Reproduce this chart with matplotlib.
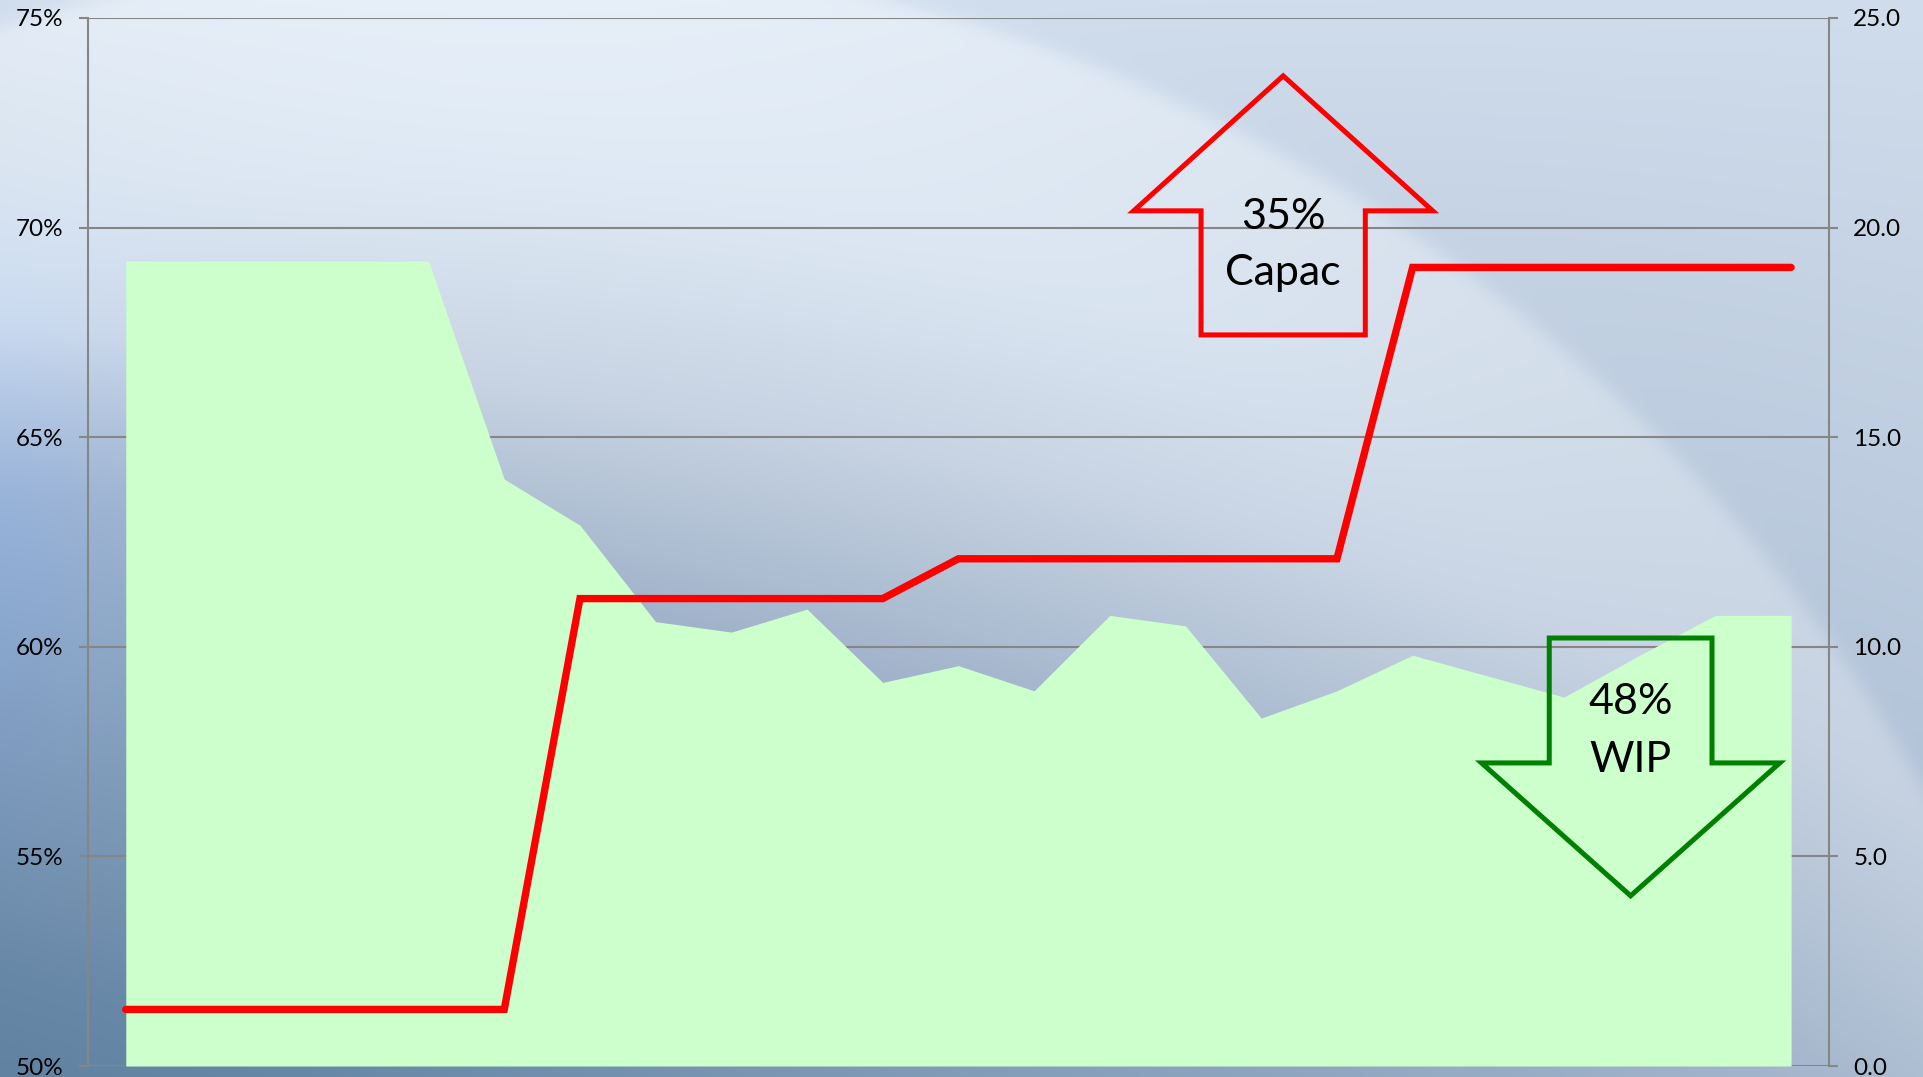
import numpy as np
import matplotlib
matplotlib.use("Agg")
import matplotlib.pyplot as plt
from matplotlib.patches import Polygon

plt.rcParams['font.family'] = ['Lato', 'DejaVu Sans']

# data
weeks = np.arange(1, 24)
wip_pct = [69.2, 69.2, 69.2, 69.2, 69.2, 64.0, 62.9, 60.6, 60.35, 60.9, 59.15, 59.55,
           58.95, 60.75, 60.5, 58.3, 58.95, 59.8, 59.3, 58.8, 59.8, 60.75, 60.75]
capacity = [1.35, 1.35, 1.35, 1.35, 1.35, 1.35, 11.15, 11.15, 11.15, 11.15, 11.15, 12.1,
            12.1, 12.1, 12.1, 12.1, 12.1, 19.05, 19.05, 19.05, 19.05, 19.05, 19.05]
left_ticks = [50, 55, 60, 65, 70, 75]
right_ticks = [0, 5, 10, 15, 20, 25]

grid_col = '#868686'

fig = plt.figure(figsize=(19.24, 10.77), dpi=100)

# slide-like background
h, w = 539, 962
v, u = np.mgrid[0:h, 0:w]
u = u / (w - 1)
v = v / (h - 1)
s = v * (1 - 0.6 * u)
stops = [0.0, 0.3, 0.45, 0.9, 1.0]
cols = np.array([[228, 237, 246], [198, 210, 225], [162, 180, 203], [104, 136, 168], [98, 130, 162]])
img = np.zeros((h, w, 3))
for c in range(3):
    img[..., c] = np.interp(s, stops, cols[:, c])
# blue tint at left edge
tint = np.exp(-(u / 0.07) ** 2) * np.clip((v - 0.15) / 0.3, 0, 1) * np.clip((0.85 - v) / 0.3, 0, 1)
img[..., 2] += 14 * tint
img[..., 0] -= 8 * tint
# darker region outside the big arc on the right
X = u * 1568
Y = v * 878
r = np.sqrt((X - 400) ** 2 + (Y - 1300) ** 2)
edge = 1 / (1 + np.exp(-(r - 1340) / 4))
img[..., 0] -= 20 * edge
img[..., 1] -= 16 * edge
img[..., 2] -= 10 * edge
# soft light band
band = np.exp(-((r - 1150) / 140) ** 2) * np.clip((0.7 - v) / 0.4, 0, 1)
img += 8 * band[..., None]
img = np.clip(img, 0, 255) / 255
bg = fig.add_axes([0, 0, 1, 1], zorder=-10)
bg.imshow(img, extent=[0, 1, 0, 1], aspect='auto', interpolation='bilinear')
bg.axis('off')

ax = fig.add_axes([0.0457, 0.0102, 0.9049, 0.9731])
ax.set_facecolor('none')
ax.fill_between(weeks, 50, wip_pct, color='#ccffcc', linewidth=0, zorder=2)
ax.set_xlim(0.5, 23.5)
ax.set_ylim(50, 75)
ax.set_yticks(left_ticks)
ax.set_yticklabels([f"{t}%" for t in left_ticks])
ax.set_xticks([])
ax.grid(axis='y', color=grid_col, linewidth=1.5, zorder=1)
ax.set_axisbelow(True)
for sp in ['top', 'bottom', 'right']:
    ax.spines[sp].set_visible(False)
ax.spines['left'].set_color(grid_col)
ax.spines['left'].set_linewidth(1.5)
ax.tick_params(axis='y', direction='out', length=6.5, width=1.5, color=grid_col,
               labelsize=17.5, pad=11)

ax2 = ax.twinx()
ax2.plot(weeks, capacity, color='#ff0000', linewidth=5.3, solid_capstyle='round',
         solid_joinstyle='miter', zorder=3)
ax2.set_ylim(0, 25)
ax2.set_yticks(right_ticks)
ax2.set_yticklabels([f"{t:.1f}" for t in right_ticks])
for sp in ['top', 'bottom', 'left']:
    ax2.spines[sp].set_visible(False)
ax2.spines['right'].set_color(grid_col)
ax2.spines['right'].set_linewidth(1.5)
ax2.tick_params(axis='y', direction='out', length=6.5, width=1.5, color=grid_col,
                labelsize=17.5, pad=11)


def block_arrow(cx, shaft_half, head_half, tip_y, head_y, tail_y):
    return [(cx, tip_y), (cx + head_half, head_y), (cx + shaft_half, head_y),
            (cx + shaft_half, tail_y), (cx - shaft_half, tail_y),
            (cx - shaft_half, head_y), (cx - head_half, head_y)]


# capacity up arrow (left-axis data units)
up = block_arrow(16.29, 1.085, 1.975, 73.62, 70.40, 67.44)
ax.add_patch(Polygon(up, closed=True, fill=False, edgecolor='#ff0000', linewidth=3.6,
                     joinstyle='miter', zorder=4))
ax.text(16.29, 70.25, "35%", ha='center', va='center', fontsize=31, zorder=5)
ax.text(16.29, 68.92, "Capac", ha='center', va='center', fontsize=31, zorder=5)

# WIP down arrow
down = block_arrow(20.88, 1.075, 1.97, 54.06, 57.23, 60.21)
ax.add_patch(Polygon(down, closed=True, fill=False, edgecolor='#008000', linewidth=3.6,
                     joinstyle='miter', zorder=4))
ax.text(20.88, 58.68, "48%", ha='center', va='center', fontsize=31, zorder=5)
ax.text(20.88, 57.30, "WIP", ha='center', va='center', fontsize=31, zorder=5)

fig.savefig('out.png', dpi=100)
